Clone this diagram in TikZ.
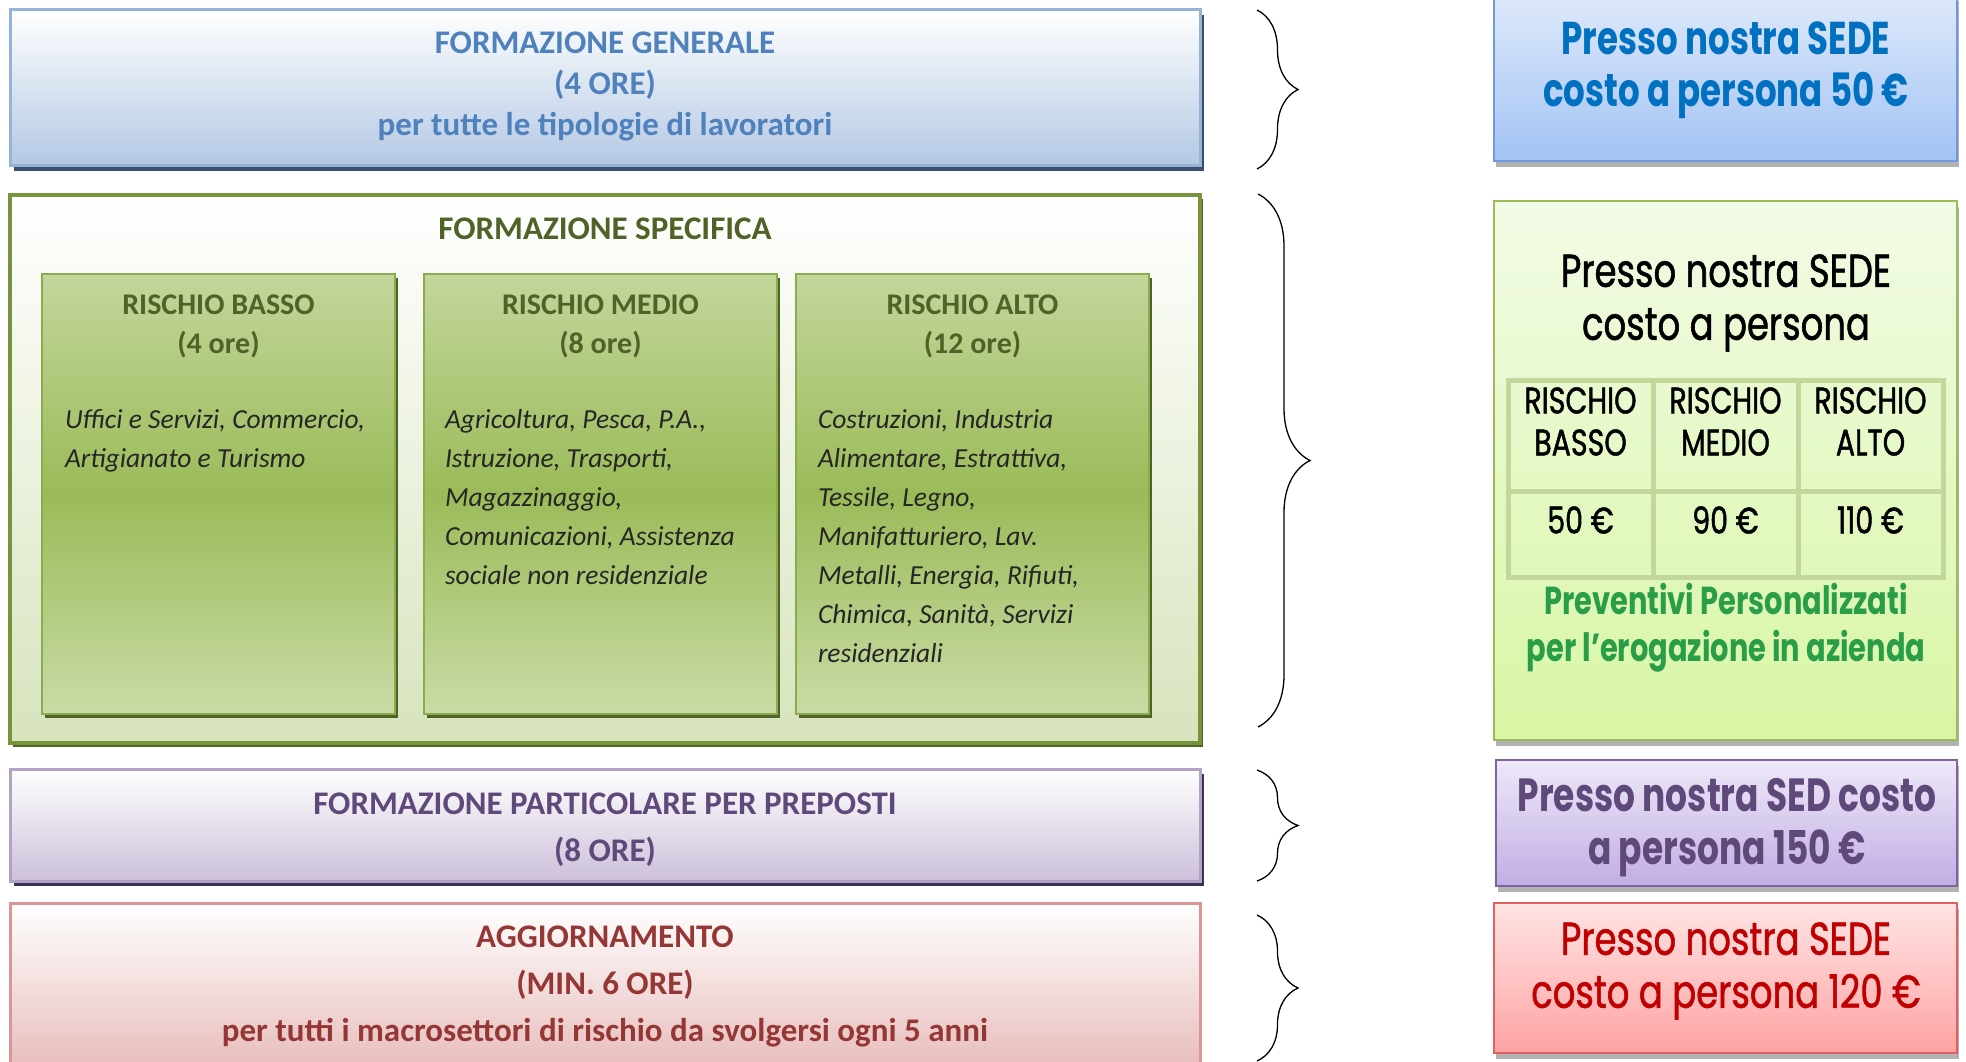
\documentclass[tikz,border=0pt]{standalone}
\usepackage{fontspec}
\setmainfont{Carlito}
\newfontfamily\gothic[FakeStretch=0.78,BoldFeatures={FakeStretch=0.74}]{Poppins}
\newfontfamily\gothicm[FakeStretch=0.77,FakeBold=1.2]{Poppins}
\usetikzlibrary{positioning,shadows,decorations.pathreplacing}
\definecolor{genline}{HTML}{95B3D7}
\definecolor{genfill}{HTML}{B3C8E4}
\definecolor{genshadow}{HTML}{3B4E6E}
\definecolor{gentxt}{HTML}{4F81BD}
\definecolor{specline}{HTML}{77933C}
\definecolor{specfill}{HTML}{D7E4BD}
\definecolor{specshadow}{HTML}{4F6228}
\definecolor{spectxt}{HTML}{4F6228}
\definecolor{risktop}{HTML}{C3D69B}
\definecolor{riskmid}{HTML}{9BBB59}
\definecolor{riskbot}{HTML}{C9DBA5}
\definecolor{riskline}{HTML}{8CAA4E}
\definecolor{partline}{HTML}{B3A2C7}
\definecolor{partfill}{HTML}{CCC0DA}
\definecolor{partshadow}{HTML}{3F3151}
\definecolor{parttxt}{HTML}{5F497A}
\definecolor{aggline}{HTML}{D99694}
\definecolor{aggfill}{HTML}{E6B9B8}
\definecolor{aggtxt}{HTML}{953735}
\definecolor{blueline}{HTML}{6F9BDC}
\definecolor{bluetop}{HTML}{DEE9FB}
\definecolor{bluebot}{HTML}{A3C3F4}
\definecolor{bluetxt}{HTML}{0070C0}
\definecolor{greenline}{HTML}{9BBB59}
\definecolor{greentop}{HTML}{F2FBE6}
\definecolor{greenbot}{HTML}{D8F6A4}
\definecolor{tabline}{HTML}{C3D69B}
\definecolor{greentxt}{HTML}{2A9D48}
\definecolor{purpline}{HTML}{8064A2}
\definecolor{purptop}{HTML}{EEE8F8}
\definecolor{purpbot}{HTML}{C1AEE4}
\definecolor{purptxt}{HTML}{5F497A}
\definecolor{redline}{HTML}{E06060}
\definecolor{redtop}{HTML}{FFE4E4}
\definecolor{redbot}{HTML}{FFA3A3}
\definecolor{redtxt}{HTML}{C00000}

\begin{document}
\begin{tikzpicture}[x=1pt,y=-1pt,
	every node/.style={inner sep=0pt,outer sep=0pt},
	band/.style={rectangle,anchor=north west,minimum width=1190pt,line width=3pt},
	risk/.style={rectangle,anchor=north west,minimum width=353pt,minimum height=440pt,line width=2pt,draw=riskline,
		top color=risktop,bottom color=riskbot,middle color=riskmid,
		drop shadow={shadow xshift=3pt,shadow yshift=-4pt,fill=specshadow,opacity=1}},
	price/.style={rectangle,anchor=north west,minimum width=463pt,line width=2pt,
		drop shadow={shadow xshift=2pt,shadow yshift=-6pt,fill=black,opacity=.3}},
	cell/.style={rectangle,anchor=north west,draw=tabline,line width=5pt,minimum width=145pt},
	ttl/.style={font=\bfseries\fontsize{33}{41}\selectfont,align=center},
	ttlb/.style={font=\bfseries\fontsize{33}{47}\selectfont,align=center},
	rhead/.style={font=\bfseries\fontsize{30}{39}\selectfont,align=center,text=spectxt},
	rbody/.style={font=\itshape\fontsize{27.5}{39}\selectfont,align=left,anchor=north west,text=black!85},
	pricetxt/.style={font=\gothic\bfseries\fontsize{46}{52}\selectfont,align=center},
	pricereg/.style={font=\gothicm\fontsize{46}{53}\selectfont,align=center},
	celltxt/.style={font=\gothicm\fontsize{37}{42}\selectfont,align=center},
	curly/.style={decorate,decoration={brace,amplitude=#1},line width=1.3pt},
	curly/.default=41pt]

	\path[use as bounding box,fill=white] (0,0) rectangle (1966,1062);

	\node[band,minimum height=156pt,draw=genline,top color=white,bottom color=genfill,
		drop shadow={shadow xshift=4pt,shadow yshift=-5pt,fill=genshadow,opacity=1}] (gen) at (10,10) {};
	\node[ttl,text=gentxt] (gent) at (605,86) {FORMAZIONE GENERALE\\(4 ORE)\\per tutte le tipologie di lavoratori};

	\node[band,minimum height=548pt,draw=specline,line width=4pt,top color=white,bottom color=specfill,
		drop shadow={shadow xshift=3pt,shadow yshift=-4pt,fill=specshadow,opacity=1}] (spec) at (10,195) {};
	\node[ttl,text=spectxt] (spect) at (605,229) {FORMAZIONE SPECIFICA};

	\node[risk] (basso) at (42,274) {};
	\node[risk,right=29pt of basso] (medio) {};
	\node[risk,right=19pt of medio] (alto) {};
	\node[rhead] (bassoh) at ([yshift=-52pt]basso.north) {RISCHIO BASSO\\(4 ore)};
	\node[rhead] (medioh) at ([yshift=-52pt]medio.north) {RISCHIO MEDIO\\(8 ore)};
	\node[rhead] (altoh) at ([yshift=-52pt]alto.north) {RISCHIO ALTO\\(12 ore)};
	\node[rbody] (bassob) at ([xshift=23pt,yshift=-135pt]basso.north west) {Uffici e Servizi, Commercio,\\Artigianato e Turismo};
	\node[rbody] (mediob) at ([xshift=21pt,yshift=-135pt]medio.north west) {Agricoltura, Pesca, P.A.,\\Istruzione, Trasporti,\\Magazzinaggio,\\Comunicazioni, Assistenza\\sociale non residenziale};
	\node[rbody] (altob) at ([xshift=22pt,yshift=-135pt]alto.north west) {Costruzioni, Industria\\Alimentare, Estrattiva,\\Tessile, Legno,\\Manifatturiero, Lav.\\Metalli, Energia, Rifiuti,\\Chimica, Sanità, Servizi\\residenziali};

	\node[band,minimum height=112pt,draw=partline,top color=white,bottom color=partfill,
		drop shadow={shadow xshift=4pt,shadow yshift=-5pt,fill=partshadow,opacity=1}] (part) at (10,769) {};
	\node[ttlb,text=parttxt] (partt) at (605,830) {FORMAZIONE PARTICOLARE PER PREPOSTI\\(8 ORE)};

	\node[band,minimum height=175pt,draw=aggline,top color=white,bottom color=aggfill] (agg) at (10,903) {};
	\node[ttlb,text=aggtxt] (aggt) at (605,986) {AGGIORNAMENTO\\(MIN. 6 ORE)\\per tutti i macrosettori di rischio da svolgersi ogni 5 anni};

	\coordinate (b1t) at (1257,10);
	\coordinate (b1b) at (1257,169);
	\coordinate (b2t) at (1258,194);
	\coordinate (b2b) at (1258,727);
	\coordinate (b3t) at (1257,770);
	\coordinate (b3b) at (1257,881);
	\coordinate (b4t) at (1257,915);
	\coordinate (b4b) at (1257,1061);
	\draw[curly] (b1t) -- (b1b);
	\draw[curly=52pt] (b2t) -- (b2b);
	\draw[curly] (b3t) -- (b3b);
	\draw[curly] (b4t) -- (b4b);

	\node[price,minimum height=166pt,draw=blueline,top color=bluetop,bottom color=bluebot] (sede1) at (1494,-5) {};
	\node[pricetxt,text=bluetxt] (sede1t) at (1726,70) {Presso nostra SEDE\\costo a persona 50 €};

	\node[price,minimum height=539pt,draw=greenline,top color=greentop,bottom color=greenbot] (sede2) at (1494,201) {};
	\node[pricereg] (sede2t) at (1726,303) {Presso nostra SEDE\\costo a persona};
	\node[cell,minimum height=111pt] (c11) at (1508,380) {};
	\node[cell,minimum height=111pt,right=0pt of c11] (c12) {};
	\node[cell,minimum height=111pt,right=0pt of c12] (c13) {};
	\node[cell,minimum height=86pt,below=0pt of c11] (c21) {};
	\node[cell,minimum height=86pt,below=0pt of c12] (c22) {};
	\node[cell,minimum height=86pt,below=0pt of c13] (c23) {};
	\node[celltxt] (c11t) at ([yshift=14pt]c11.center) {RISCHIO\\BASSO};
	\node[celltxt] (c12t) at ([yshift=14pt]c12.center) {RISCHIO\\MEDIO};
	\node[celltxt] (c13t) at ([yshift=14pt]c13.center) {RISCHIO\\ALTO};
	\node[celltxt] (c21t) at ([yshift=14pt]c21.center) {50 €};
	\node[celltxt] (c22t) at ([yshift=14pt]c22.center) {90 €};
	\node[celltxt] (c23t) at ([yshift=14pt]c23.center) {110 €};
	\node[pricetxt,font=\gothic\bfseries\fontsize{39}{47}\selectfont,text=greentxt] (sede2p) at (1726,628) {Preventivi Personalizzati\\per l’erogazione in azienda};

	\node[price,minimum height=126pt,minimum width=461pt,draw=purpline,top color=purptop,bottom color=purpbot] (sede3) at (1496,760) {};
	\node[pricetxt,font=\gothic\bfseries\fontsize{46.5}{53}\selectfont,text=purptxt] (sede3t) at (1727,828) {Presso nostra SED costo\\a persona 150 €};

	\node[price,minimum height=150pt,draw=redline,top color=redtop,bottom color=redbot] (sede4) at (1494,903) {};
	\node[pricereg,text=redtxt] (sede4t) at (1726,971) {Presso nostra SEDE\\costo a persona 120 €};
\end{tikzpicture}
\end{document}
